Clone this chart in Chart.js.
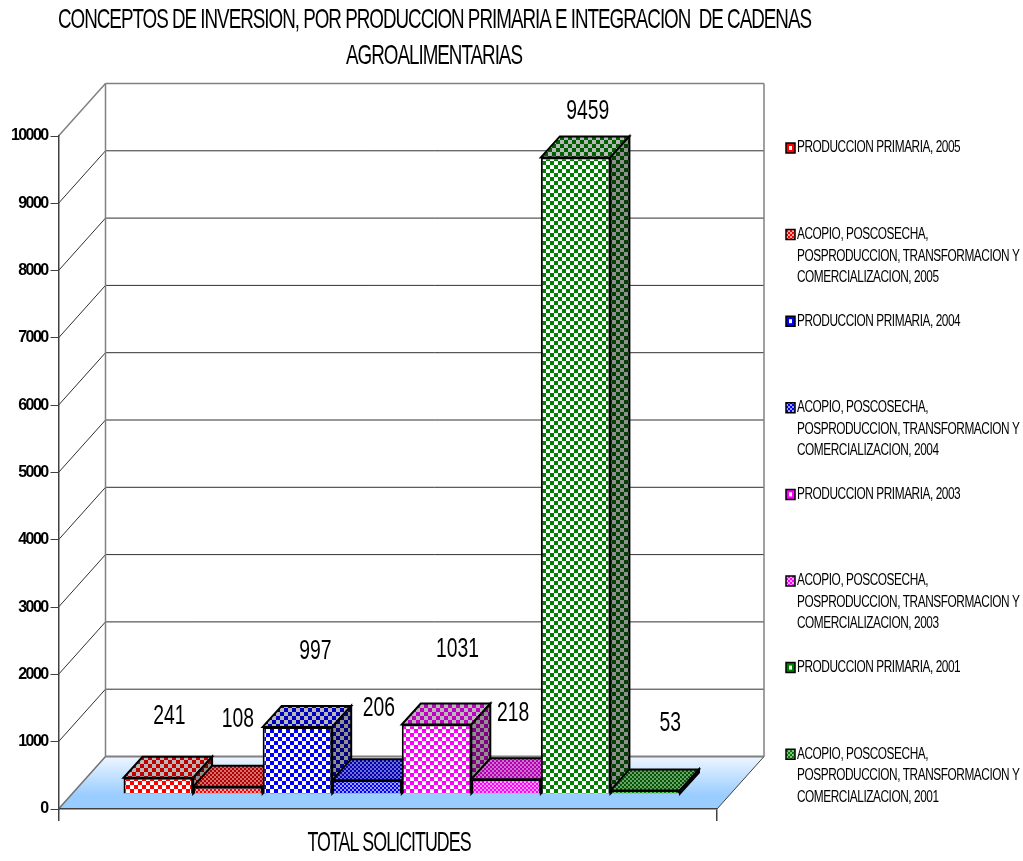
<!DOCTYPE html>
<html>
<head>
<meta charset="utf-8">
<title>Conceptos de inversion</title>
<script src="https://cdn.jsdelivr.net/npm/chart.js@4/dist/chart.umd.min.js"></script>
<style>
html, body { margin: 0; padding: 0; background: #fff; }
canvas { display: block; }
</style>
</head>
<body>
<canvas id="mainGraph" width="1023" height="861"></canvas>
<script>
var category = ['TOTAL SOLICITUDES'];
var titleLines = ['CONCEPTOS DE INVERSION, POR PRODUCCION PRIMARIA E INTEGRACION  DE CADENAS', 'AGROALIMENTARIAS'];
var seriesNames = [
    ['PRODUCCION PRIMARIA, 2005'],
    ['ACOPIO, POSCOSECHA,', 'POSPRODUCCION, TRANSFORMACION Y', 'COMERCIALIZACION, 2005'],
    ['PRODUCCION PRIMARIA, 2004'],
    ['ACOPIO, POSCOSECHA,', 'POSPRODUCCION, TRANSFORMACION Y', 'COMERCIALIZACION, 2004'],
    ['PRODUCCION PRIMARIA, 2003'],
    ['ACOPIO, POSCOSECHA,', 'POSPRODUCCION, TRANSFORMACION Y', 'COMERCIALIZACION, 2003'],
    ['PRODUCCION PRIMARIA, 2001'],
    ['ACOPIO, POSCOSECHA,', 'POSPRODUCCION, TRANSFORMACION Y', 'COMERCIALIZACION, 2001']
];
var seriesValues = [241, 108, 997, 206, 1031, 218, 9459, 53];
var seriesColors = ['#ff0000', '#ff0000', '#0000ff', '#0000ff', '#ff00ff', '#ff00ff', '#008000', '#008000'];
var frontTints = ['#ffffff', '#ffa0a0', '#ffffff', '#a0a0ff', '#ffffff', '#ffa0ff', '#ffffff', '#80c080'];
var topColors = ['#c00000', '#b00000', '#0000c0', '#0000b0', '#c000c0', '#b000b0', '#006000', '#005800'];
var topTints = ['#b8b8b8', '#d07070', '#b8b8b8', '#7070d0', '#b8b8b8', '#d070d0', '#b8b8b8', '#70a070'];
var sideColors = ['#800000', '#800000', '#000080', '#000080', '#800080', '#800080', '#004000', '#004000'];

// 3d look, in pixels
var wallDepth = { x: 47, y: -52.5 };
var barFront = { x: 14, y: -15 };
var barDepth = { x: 19, y: -21 };
// where the value labels sit, relative to the front top centre of the bar
var labelNudge = [[11, -61], [10, -67], [18, -76], [12, -72], [21, -75], [7, -66], [12, -46], [25, -67]];

function checker(a, b, cell) {
    var c = document.createElement('canvas');
    c.width = c.height = cell * 2;
    var g = c.getContext('2d');
    g.fillStyle = b;
    g.fillRect(0, 0, cell * 2, cell * 2);
    g.fillStyle = a;
    g.fillRect(0, 0, cell, cell);
    g.fillRect(cell, cell, cell, cell);
    return g.createPattern(c, 'repeat');
}

function poly(ctx, pts, fill, stroke, lw) {
    ctx.beginPath();
    ctx.moveTo(pts[0][0], pts[0][1]);
    for (var i = 1; i < pts.length; i++) ctx.lineTo(pts[i][0], pts[i][1]);
    ctx.closePath();
    if (fill) { ctx.fillStyle = fill; ctx.fill(); }
    if (stroke) { ctx.strokeStyle = stroke; ctx.lineWidth = lw || 1; ctx.stroke(); }
}

function line(ctx, x1, y1, x2, y2, color, lw) {
    ctx.beginPath();
    ctx.moveTo(x1, y1);
    ctx.lineTo(x2, y2);
    ctx.strokeStyle = color;
    ctx.lineWidth = lw || 1;
    ctx.stroke();
}

// the reference has tall squeezed letters
function squeezed(ctx, text, x, y, squeeze, size, spacing, align) {
    ctx.save();
    ctx.font = size + 'px "Liberation Sans"';
    ctx.letterSpacing = spacing + 'px';
    ctx.fillStyle = '#000';
    ctx.textBaseline = 'middle';
    ctx.textAlign = align || 'left';
    ctx.translate(x, y);
    ctx.scale(squeeze, 1);
    ctx.fillText(text, 0, 0);
    ctx.restore();
}

var walls = {
    id: 'walls',
    beforeDraw: function (c) {
        var ctx = c.ctx, x = c.scales.x, y = c.scales.y;
        var l = x.left, r = x.right, b = y.getPixelForValue(0), t = y.getPixelForValue(10000);
        var dx = wallDepth.x, dy = wallDepth.y;
        // floor
        var grad = ctx.createLinearGradient(0, b + dy, 0, b);
        grad.addColorStop(0, '#eef6ff');
        grad.addColorStop(0.75, '#99ccff');
        grad.addColorStop(1, '#99ccff');
        poly(ctx, [[l, b], [r, b], [r + dx, b + dy], [l + dx, b + dy]], grad);
        // lines of the back and left wall
        y.ticks.forEach(function (tick) {
            var py = y.getPixelForValue(tick.value);
            if (tick.value > 0) {
                var col = tick.value == 10000 ? '#808080' : '#303030';
                var w = tick.value == 10000 ? 1.5 : 1;
                line(ctx, l + dx, py + dy, r + dx, py + dy, col, w);
                line(ctx, l, py, l + dx, py + dy, col, w);
            }
        });
        line(ctx, l + dx, b + dy, r + dx, b + dy, '#808080', 2);
        line(ctx, l + dx, t + dy, l + dx, b + dy, '#808080', 1.5);
        line(ctx, r + dx, t + dy, r + dx, b + dy, '#808080', 1.5);
        line(ctx, l, b, l + dx, b + dy, '#707070', 1.5);
        line(ctx, r, b, r + dx, b + dy, '#404040', 1);
        // title
        squeezed(ctx, titleLines[0], 434.5, 20, 0.672, 28, -1.5, 'center');
        squeezed(ctx, titleLines[1], 434, 56, 0.672, 28, -1.5, 'center');
        // legend
        for (var i = 0; i < seriesNames.length; i++) {
            var ly = 148 + i * 86.6;
            if (i % 2) {
                poly(ctx, [[786, ly - 5], [795, ly - 5], [795, ly + 5], [786, ly + 5]], checker(seriesColors[i], frontTints[i], 2), '#000', 1.5);
            } else {
                poly(ctx, [[786, ly - 5], [795, ly - 5], [795, ly + 5], [786, ly + 5]], seriesColors[i], '#000', 1.5);
                poly(ctx, [[789, ly - 2], [792, ly - 2], [792, ly + 2], [789, ly + 2]], '#ffffff');
            }
            var lines = seriesNames[i];
            for (var k = 0; k < lines.length; k++) {
                squeezed(ctx, lines[k], 797, ly + k * 21.5, 0.74, 16, -0.6);
            }
        }
        // tick labels are squeezed too, the scale draws them with this spacing
        ctx.letterSpacing = '-1.6px';
    },
    beforeDatasetsDraw: function (c) {
        var ctx = c.ctx;
        for (var i = 0; i < seriesValues.length; i++) {
            var bar = c.getDatasetMeta(i).data[0];
            var x0 = bar.x - bar.width / 2 + barFront.x, x1 = bar.x + bar.width / 2 + barFront.x;
            var yt = bar.y + barFront.y, yb = bar.base + barFront.y;
            var cell = i % 2 ? 2 : 4;
            var dx = barDepth.x, dy = barDepth.y;
            poly(ctx, [[x0, yt], [x1, yt], [x1 + dx, yt + dy], [x0 + dx, yt + dy]], checker(topColors[i], topTints[i], cell), '#000', 2);
            poly(ctx, [[x1, yb], [x1 + dx, yb + dy], [x1 + dx, yt + dy], [x1, yt]], checker(sideColors[i], '#909090', cell), '#000', 2);
        }
    },
    beforeDatasetDraw: function (c) {
        c.ctx.save();
        c.ctx.translate(barFront.x, barFront.y);
    },
    afterDatasetDraw: function (c) {
        c.ctx.restore();
    },
    afterDraw: function (c) {
        var ctx = c.ctx;
        for (var i = 0; i < seriesValues.length; i++) {
            var bar = c.getDatasetMeta(i).data[0];
            squeezed(ctx, String(seriesValues[i]), bar.x + barFront.x + labelNudge[i][0], bar.y + barFront.y + labelNudge[i][1], 0.69, 28, 0, 'center');
        }
        squeezed(ctx, category[0], 389, 843, 0.636, 28, -1.5, 'center');
    }
};

var datasets = [];
for (var i = 0; i < seriesValues.length; i++) {
    datasets.push({
        label: seriesNames[i].join(' '),
        data: [seriesValues[i]],
        backgroundColor: checker(seriesColors[i], frontTints[i], i % 2 ? 2 : 4),
        borderColor: '#000',
        borderWidth: 2,
        categoryPercentage: 0.845,
        barPercentage: 1,
        clip: false
    });
}

var chart = new Chart(document.getElementById('mainGraph').getContext('2d'), {
    type: 'bar',
    data: { labels: category, datasets: datasets },
    plugins: [walls],
    options: {
        responsive: false,
        animation: false,
        events: [],
        layout: { padding: { top: 136, right: 306, left: 0, bottom: 0 } },
        plugins: { legend: { display: false }, title: { display: false }, tooltip: { enabled: false } },
        scales: {
            x: {
                ticks: { display: false },
                grid: { offset: true, drawOnChartArea: false, tickLength: 12, color: '#404040', lineWidth: 1.5 },
                border: { color: '#404040', width: 1.5 },
                afterFit: function (s) { s.height = 52; }
            },
            y: {
                min: 0,
                max: 10000,
                ticks: {
                    stepSize: 1000,
                    color: '#000',
                    padding: 3,
                    font: { family: 'Liberation Sans', size: 16, weight: 'bold' },
                    callback: function (v) { return String(v); }
                },
                grid: { drawOnChartArea: false, tickLength: 8, color: '#404040' },
                border: { color: '#404040', width: 1.5 },
                afterFit: function (s) { s.width = 58.5; }
            }
        }
    }
});
</script>
</body>
</html>
